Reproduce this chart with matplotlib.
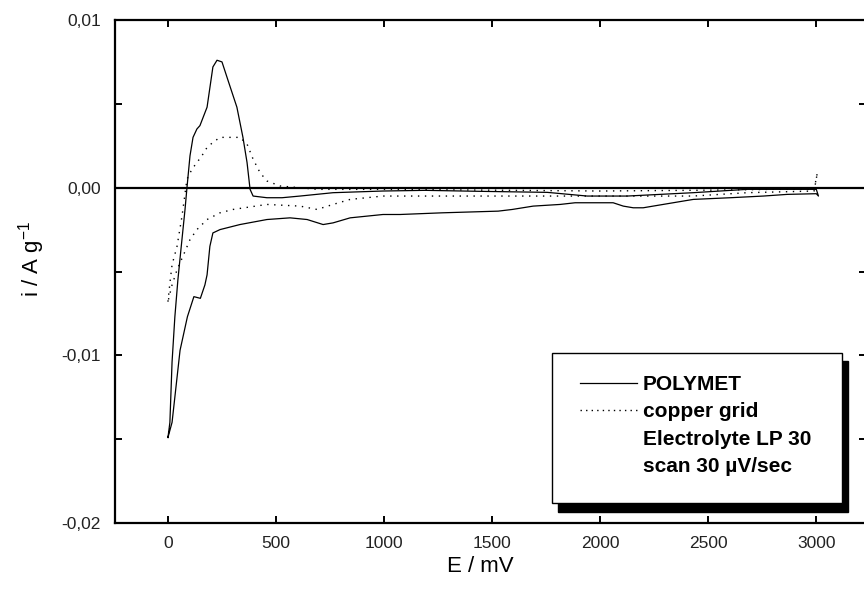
import matplotlib
matplotlib.use("Agg")
import matplotlib.pyplot as plt
from matplotlib.lines import Line2D
from matplotlib.patches import Rectangle

plt.rcParams['font.family'] = ['Liberation Sans', 'DejaVu Sans']
plt.rcParams['mathtext.default'] = 'regular'

# ---- data ----
# POLYMET: anodic (forward) scan 0 -> 3000 mV, then cathodic (reverse) scan back to 0
polymet_E = [0, 9, 19, 32, 46, 60, 79, 88, 102, 116, 134, 148, 181, 208, 227, 250,
             278, 319, 347, 366, 380, 394, 458, 528, 611, 764, 995, 1190, 1450, 1755,
             1940, 2125, 2430, 2680, 3000,
             3010, 3000, 2866, 2755, 2602, 2431, 2384, 2245, 2199, 2153, 2107, 2060,
             1884, 1815, 1690, 1593, 1528, 1269, 1074, 995, 843, 764, 718, 644, 565,
             458, 333, 241, 208, 194, 181, 171, 150, 120, 90, 56, 19, 0]
polymet_i = [-0.0149, -0.0140, -0.0104, -0.0077, -0.0055, -0.0037, -0.0013, 0.0000,
             0.0019, 0.0030, 0.0035, 0.0037, 0.0048, 0.0072, 0.0076, 0.0075,
             0.0064, 0.0048, 0.0030, 0.0015, -0.0001, -0.0005, -0.0006, -0.0006,
             -0.0005, -0.0003, -0.0002, -0.00016, -0.00022, -0.00028,
             -0.0005, -0.0005, -0.0003, -0.0001, -0.0001,
             -0.0005, -0.00036, -0.0004, -0.0005, -0.0006, -0.0007, -0.0008, -0.0011,
             -0.0012, -0.0012, -0.0011, -0.0009,
             -0.0009, -0.0010, -0.0011, -0.0013, -0.0014, -0.0015, -0.0016, -0.0016,
             -0.0018, -0.0021, -0.0022, -0.0019, -0.0018,
             -0.0019, -0.0022, -0.0025, -0.0027, -0.0035, -0.0052, -0.0058, -0.0066,
             -0.0065, -0.0077, -0.0097, -0.0140, -0.0149]

copper_E = [0, 9, 19, 42, 65, 88, 111, 134, 157, 181, 208, 241, 333, 366, 394, 426,
            458, 519, 690, 1000, 1500, 2000, 2500, 2800, 2990, 3005,
            2990, 2680, 2430, 2185, 1500, 1075, 995, 843, 764, 690, 611, 458, 301,
            241, 181, 134, 102, 69, 42, 19, 0]
copper_i = [-0.0068, -0.0057, -0.0046, -0.0035, -0.0017, 0.0005, 0.0011, 0.0015,
            0.0019, 0.0024, 0.0027, 0.0030, 0.0030, 0.0026, 0.0017, 0.0009,
            0.0004, 0.0001, -0.0001, -0.0001, -0.00015, -0.0002, -0.00015, -0.0001,
            -0.0001, 0.0009,
            -0.0002, -0.0003, -0.0005, -0.0005, -0.0005, -0.0005, -0.0005, -0.0007,
            -0.0010, -0.0013, -0.0011, -0.0010, -0.0013,
            -0.0015, -0.0019, -0.0025, -0.0031, -0.0041, -0.0049, -0.0058, -0.0068]

xtick_values = [0, 500, 1000, 1500, 2000, 2500, 3000]
xtick_labels = ['0', '500', '1000', '1500', '2000', '2500', '3000']
ytick_values = [-0.02, -0.01, 0.0, 0.01]
ytick_labels = ['-0,02', '-0,01', '0,00', '0,01']
ytick_minor = [-0.015, -0.005, 0.005]

legend_labels = ['POLYMET', 'copper grid', 'Electrolyte LP 30', 'scan 30 \u00b5V/sec']

# ---- figure ----
fig = plt.figure(figsize=(8.64, 5.95), dpi=100)
ax = fig.add_axes([115/864, 72/595, 751/864, 503/595])

ax.plot(polymet_E, polymet_i, color='black', lw=0.9, solid_joinstyle='round')
ax.plot(copper_E, copper_i, color='black', lw=1.0, linestyle=(0, (1, 4)))
ax.axhline(0, color='black', lw=1.6)

ax.set_xlim(-245, 3230)
ax.set_ylim(-0.02, 0.01)

ax.set_xticks(xtick_values)
ax.set_xticklabels(xtick_labels)
ax.set_yticks(ytick_values)
ax.set_yticklabels(ytick_labels)
ax.set_yticks(ytick_minor, minor=True)

for s in ax.spines.values():
    s.set_linewidth(1.6)

ax.tick_params(axis='both', which='both', direction='in', length=5, width=1.4,
               top=True, right=True, colors='black', labelcolor='#222222')
ax.tick_params(axis='x', labelsize=12.5, pad=9)
ax.tick_params(axis='y', labelsize=12.5, pad=10)

ax.set_xlabel('E / mV', fontsize=16)
ax.set_ylabel('i / A g$^{-1}$', fontsize=16)
ax.xaxis.set_label_coords(0.486, -0.066)
ax.yaxis.set_label_coords(-0.09, 0.525)

# legend frame with hard black shadow
ax.add_patch(Rectangle((0.590, 0.022), 0.386, 0.300, transform=ax.transAxes,
                       facecolor='black', edgecolor='black', zorder=5))
ax.add_patch(Rectangle((0.582, 0.040), 0.386, 0.298, transform=ax.transAxes,
                       facecolor='white', edgecolor='black', lw=1.0, zorder=6))

handles = [Line2D([], [], color='black', lw=0.9),
           Line2D([], [], color='black', lw=1.0, linestyle=(0, (1, 3))),
           Line2D([], [], color='none'),
           Line2D([], [], color='none')]
leg = ax.legend(handles, legend_labels, loc='upper left',
                bbox_to_anchor=(0.619, 0.294), frameon=False,
                prop={'size': 15, 'weight': 'bold'},
                handlelength=2.73, handletextpad=0.29, labelspacing=0.4,
                borderpad=0, borderaxespad=0)
leg.set_zorder(7)

fig.savefig('out.png', dpi=100)
